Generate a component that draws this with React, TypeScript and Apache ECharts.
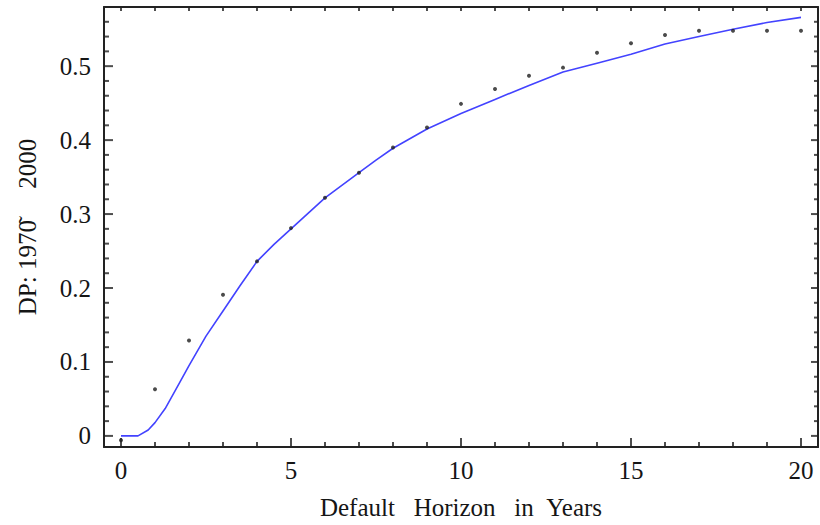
import React, { useEffect, useRef } from "react";
import * as echarts from "echarts";

// Fitted curve (blue line): [horizon in years, default probability]
const lineX = [0, 0.5, 0.8, 1, 1.3, 1.7, 2, 2.5, 3, 3.5, 4, 4.5, 5, 6, 7, 7.5, 8, 9, 10, 11, 12, 13, 14, 15, 16, 17, 18, 19, 20];
const lineY = [0, 0, 0.008, 0.018, 0.037, 0.07, 0.095, 0.135, 0.169, 0.203, 0.236, 0.259, 0.28, 0.322, 0.356, 0.373, 0.389, 0.415, 0.436, 0.455, 0.474, 0.492, 0.504, 0.516, 0.53, 0.54, 0.55, 0.559, 0.566];

// Empirical points (black dots)
const dotX = [0, 1, 2, 3, 4, 5, 6, 7, 8, 9, 10, 11, 12, 13, 14, 15, 16, 17, 18, 19, 20];
const dotY = [-0.006, 0.063, 0.129, 0.191, 0.236, 0.281, 0.322, 0.356, 0.39, 0.417, 0.449, 0.469, 0.487, 0.498, 0.518, 0.531, 0.542, 0.548, 0.548, 0.548, 0.548];

// Ticks
const xMajorTicks = [0, 5, 10, 15, 20];
const xMinorTicks = [1, 2, 3, 4, 6, 7, 8, 9, 11, 12, 13, 14, 16, 17, 18, 19];
const yMajorTicks = [0, 0.1, 0.2, 0.3, 0.4, 0.5];
const yMinorTicks = [0.02, 0.04, 0.06, 0.08, 0.12, 0.14, 0.16, 0.18, 0.22, 0.24, 0.26, 0.28, 0.32, 0.34, 0.36, 0.38, 0.42, 0.44, 0.46, 0.48, 0.52, 0.54, 0.56];

const xTitle = "Default\u00a0\u00a0\u00a0Horizon\u00a0\u00a0\u00a0in\u00a0\u00a0Years";
const yTitle = "{a|DP:\u00a01970}{t|\u02dc}{a|\u00a0\u00a0\u00a0\u00a0\u00a02000}";

const X_MIN = -0.5;
const X_MAX = 20.5;
const Y_MIN = -0.015;
const Y_MAX = 0.58;

const FONT = "Liberation Serif";
const FRAME = "#222222";
const TEXT = "#151515";

export default function App() {
  const ref = useRef<HTMLDivElement>(null);

  useEffect(() => {
    if (!ref.current) return;
    const chart = echarts.init(ref.current, null, { renderer: "svg" });

    const tickSeries = (data: number[][], size: number[], offset: number[]) => ({
      type: "scatter",
      xAxisIndex: 0,
      yAxisIndex: 0,
      data,
      symbol: "rect",
      symbolSize: size,
      symbolOffset: offset,
      itemStyle: { color: FRAME },
      silent: true,
      clip: false,
      emphasis: { disabled: true },
      z: 5,
    });

    const allX = xMajorTicks.concat(xMinorTicks);

    chart.setOption({
      animation: false,
      grid: { left: 104, top: 7, right: 2, bottom: 77, containLabel: false },
      xAxis: [
        {
          type: "value",
          min: X_MIN,
          max: X_MAX,
          position: "bottom",
          splitLine: { show: false },
          axisLine: { show: true, onZero: false, lineStyle: { color: FRAME, width: 2 } },
          axisTick: { show: false },
          axisLabel: { show: true, customValues: xMajorTicks, margin: 11, fontFamily: FONT, fontSize: 25, color: TEXT },
          name: xTitle,
          nameLocation: "middle",
          nameGap: 48,
          nameTextStyle: { fontFamily: FONT, fontSize: 25, color: TEXT },
        },
        {
          type: "value",
          min: X_MIN,
          max: X_MAX,
          position: "top",
          splitLine: { show: false },
          axisLine: { show: true, onZero: false, lineStyle: { color: FRAME, width: 2 } },
          axisTick: { show: false },
          axisLabel: { show: false },
        },
      ],
      yAxis: [
        {
          type: "value",
          min: Y_MIN,
          max: Y_MAX,
          position: "left",
          splitLine: { show: false },
          axisLine: { show: true, onZero: false, lineStyle: { color: FRAME, width: 2 } },
          axisTick: { show: false },
          axisLabel: { show: true, customValues: yMajorTicks, margin: 13, fontFamily: FONT, fontSize: 25, color: TEXT },
          name: yTitle,
          nameLocation: "middle",
          nameGap: 64,
          nameTextStyle: {
            fontFamily: FONT,
            fontSize: 25,
            color: TEXT,
            rich: {
              a: { fontFamily: FONT, fontSize: 25, color: TEXT },
              t: { fontFamily: FONT, fontSize: 25, color: TEXT, width: 0.01 },
            },
          },
        },
        {
          type: "value",
          min: Y_MIN,
          max: Y_MAX,
          position: "right",
          splitLine: { show: false },
          axisLine: { show: true, onZero: false, lineStyle: { color: FRAME, width: 2 } },
          axisTick: { show: false },
          axisLabel: { show: false },
        },
      ],
      series: [
        {
          type: "line",
          xAxisIndex: 0,
          yAxisIndex: 0,
          data: lineX.map((x, i) => [x, lineY[i]]),
          showSymbol: false,
          lineStyle: { color: "#4343ff", width: 1.6 },
          z: 2,
        },
        {
          type: "scatter",
          xAxisIndex: 0,
          yAxisIndex: 0,
          data: dotX.map((x, i) => [x, dotY[i]]),
          symbol: "circle",
          symbolSize: 4,
          itemStyle: { color: "#1e1e1e" },
          z: 3,
        },
        // bottom ticks
        tickSeries(xMajorTicks.map((v) => [v, Y_MIN]), [2, 9], [0, -4.5]),
        tickSeries(xMinorTicks.map((v) => [v, Y_MIN]), [2, 5], [0, -2.5]),
        // top ticks
        tickSeries(allX.map((v) => [v, Y_MAX]), [2, 4], [0, 2]),
        // left ticks
        tickSeries(yMajorTicks.map((v) => [X_MIN, v]), [9, 2], [4.5, 0]),
        tickSeries(yMinorTicks.map((v) => [X_MIN, v]), [5, 2], [2.5, 0]),
        // right ticks
        tickSeries(yMajorTicks.map((v) => [X_MAX, v]), [7, 2], [-3.5, 0]),
        tickSeries(yMinorTicks.map((v) => [X_MAX, v]), [4, 2], [-2, 0]),
      ],
    });

    return () => chart.dispose();
  }, []);

  return (
    <div
      ref={ref}
      style={{ position: "fixed", left: 0, top: 0, width: 820, height: 525, background: "#fff" }}
    />
  );
}
